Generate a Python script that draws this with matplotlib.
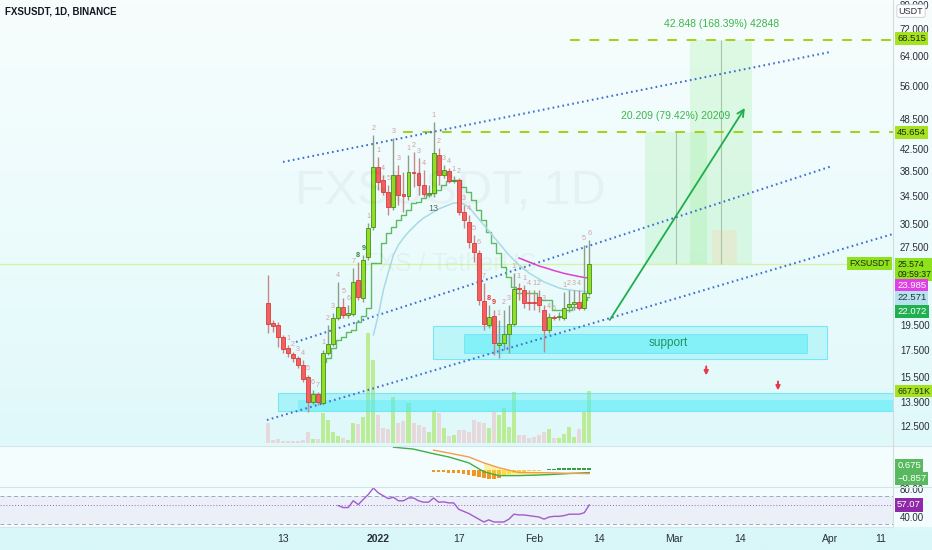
import numpy as np
import matplotlib
matplotlib.use("Agg")
import matplotlib.pyplot as plt
import matplotlib.transforms as mtransforms
from matplotlib.patches import Rectangle
from matplotlib.colors import LinearSegmentedColormap
from matplotlib.ticker import NullLocator

plt.rcParams['font.family'] = ['Liberation Sans', 'DejaVu Sans']

# ---------------- data (day index 0 = 13 Dec 2021) ----------------
days = list(range(-3, 62))
opens = [21.50, 19.68, 19.51, 18.51, 17.63, 17.17, 16.87, 16.36, 15.51, 13.90,
         14.39, 13.83, 17.25, 17.94, 20.12, 21.12, 20.39, 20.48, 23.80, 21.98,
         26.34, 30.06, 39.18, 36.99, 35.08, 32.84, 37.82, 34.78, 34.47, 38.32,
         38.15, 36.18, 34.78, 34.93, 41.30, 37.82, 38.49, 36.83, 36.99, 32.12,
         30.73, 28.02, 26.80, 21.70, 19.51, 20.30, 17.86, 18.02, 18.76, 19.60,
         22.97, 22.77, 21.60, 21.60, 22.08, 20.85, 19.09, 20.21, 20.21, 20.12,
         21.12, 21.41, 21.60, 21.03, 22.47]
highs = [24.33, 19.95, 19.77, 18.67, 17.86, 17.33, 17.02, 16.72, 15.65, 14.65,
         14.52, 17.48, 19.51, 20.57, 23.59, 21.98, 21.31, 25.09, 25.76, 26.57,
         30.60, 45.11, 40.94, 37.82, 36.18, 44.52, 39.52, 38.32, 41.30, 41.85,
         40.76, 38.66, 36.18, 47.77, 42.60, 39.52, 39.00, 37.65, 37.32, 33.13,
         31.69, 29.02, 27.17, 23.48, 21.31, 20.85, 19.95, 20.85, 21.31, 24.54,
         23.48, 23.28, 22.77, 22.77, 22.77, 21.31, 20.57, 20.39, 20.67, 22.57,
         22.77, 22.77, 22.77, 27.77, 28.39]
lows = [18.84, 18.92, 17.71, 17.25, 16.94, 16.57, 16.14, 15.17, 13.29, 13.77,
        13.71, 13.71, 17.09, 17.79, 19.95, 20.12, 20.12, 20.30, 21.79, 21.60,
        25.99, 29.67, 35.39, 34.62, 31.69, 32.40, 33.13, 32.12, 33.86, 35.86,
        34.62, 34.32, 34.32, 34.32, 36.18, 37.32, 36.50, 36.50, 31.69, 29.93,
        27.41, 25.76, 21.31, 19.09, 19.26, 17.09, 16.87, 17.48, 17.25, 19.43,
        21.79, 21.03, 20.85, 20.85, 20.67, 17.33, 18.84, 19.95, 19.95, 19.95,
        20.67, 20.85, 20.85, 20.85, 22.27]
closes = [19.60, 19.43, 18.51, 17.55, 17.25, 16.87, 16.36, 15.37, 13.90, 14.39,
          13.90, 17.25, 17.94, 20.12, 21.12, 20.39, 20.57, 23.59, 22.08, 25.99,
          29.93, 39.18, 36.67, 35.08, 32.84, 37.82, 34.62, 34.47, 38.32, 38.15,
          36.18, 34.78, 34.93, 41.66, 37.82, 38.66, 36.83, 36.99, 32.12, 31.01,
          28.14, 26.92, 21.79, 19.60, 20.21, 18.02, 18.02, 18.76, 19.60, 22.87,
          22.87, 21.50, 21.50, 21.50, 21.31, 19.09, 20.21, 20.12, 20.30, 21.03,
          21.41, 21.60, 21.03, 22.47, 25.574]
volumes_k = [257, 39, 51, 26, 26, 26, 26, 39, 141, 51,
             51, 386, 296, 141, 90, 64, 39, 257, 244, 334,
             1414, 1067, 360, 193, 180, 591, 257, 283, 514, 257,
             231, 206, 141, 424, 386, 193, 90, 103, 167, 167,
             141, 296, 270, 257, 193, 398, 360, 450, 206, 655,
             103, 103, 64, 77, 103, 141, 180, 64, 64, 116,
             206, 77, 180, 398, 667.91]

trail_days = list(range(8, 62))
trail_vals = [16.57, 16.87, 17.63, 18.26, 18.51, 18.92, 19.09, 19.77, 20.30, 21.00,
              25.65, 25.65, 28.02, 29.28, 30.06, 31.01, 31.69, 32.40, 33.42, 33.57,
              34.17, 34.62, 34.93, 35.39, 36.18, 36.83, 36.99, 36.99, 35.86, 35.08,
              33.86, 32.40, 31.01, 29.40, 28.02, 26.80, 25.20, 24.11, 23.07, 22.47,
              22.47, 22.47, 22.47, 21.79, 21.79, 21.79, 20.85, 20.85, 20.85, 20.85,
              21.12, 21.12, 21.79, 22.072]
ma_days = list(range(18, 62))
ma_vals = [18.67, 20.39, 22.77, 24.65, 26.57, 27.77, 28.64, 29.40, 30.06, 30.73,
           31.28, 31.69, 32.12, 32.54, 32.84, 33.13, 33.42, 33.42, 33.27, 32.84,
           31.98, 31.14, 30.33, 29.54, 28.76, 28.02, 27.28, 26.57, 25.99, 25.42,
           24.98, 24.54, 24.22, 23.90, 23.59, 23.38, 23.18, 22.97, 22.85, 22.78,
           22.72, 22.66, 22.61, 22.571]
mag_days = list(range(47, 62))
mag_vals = [26.22, 25.99, 25.76, 25.54, 25.31, 25.15, 24.98, 24.80, 24.65, 24.50,
            24.38, 24.27, 24.16, 24.06, 23.985]

td_days = [1, 2, 3, 4, 5, 6, 7, 8, 9, 10, 11, 12, 13, 14, 15, 16, 17, 18, 19, 20, 21,
           22, 23, 25, 26, 27, 28, 30, 31, 32, 33, 34, 35, 36, 37, 38, 39, 40, 41, 42,
           43, 44, 45, 46, 47, 48, 49, 50, 51, 52, 53, 54, 56, 57, 58, 59, 60, 61]
td_texts = ['1', '2', '3', '4', '5', '6', '7', '1', '2', '3', '4', '5', '6', '7', '8', '9', '1', '2', '1', '4', '5',
            '3', '3', '1', '2', '3', '4', '1', '2', '3', '4', '1', '2', '3', '4', '5', '6', '7', '8', '9',
            '1', '2', '3', '1', '1', '1', '4', '1', '2', '3', '4', '5', '1', '2', '3', '4', '5', '6']
td_bold_green = [15, 16]
td_bold_red = [41, 42]

macd_days = [22, 26, 30, 33, 37, 40, 43, 47, 50, 53, 57, 61]
macd_vals = [2.47, 2.26, 1.75, 1.40, 0.75, -0.22, -0.65, -0.65, -0.60, -0.54, -0.42, -0.32]
sig_days = [30, 33, 37, 40, 43, 47, 50, 53, 57, 61]
sig_vals = [2.15, 1.83, 1.40, 0.75, 0.22, -0.32, -0.32, -0.34, -0.40, -0.43]
hist_days = list(range(30, 62))
hist_vals = [-0.22, -0.22, -0.27, -0.33, -0.33, -0.38, -0.44, -0.55, -0.66, -0.77,
             -0.88, -0.99, -0.99, -0.88, -0.6, -0.45, -0.35, -0.25, -0.2, -0.15,
             -0.12, -0.1, -0.08, 0.1, 0.12, 0.14, 0.15, 0.15, 0.16, 0.17, 0.18, 0.2]

rsi_days = list(range(11, 62))
rsi_vals = [56.2, 53.4, 53.4, 63.1, 57.6, 65.0, 72.0, 81.0, 74.1, 70.0,
            66.0, 68.0, 63.0, 63.0, 67.0, 67.0, 63.0, 61.0, 61.0, 67.0,
            61.0, 61.5, 60.0, 60.0, 51.0, 48.0, 45.0, 41.0, 37.0, 33.0,
            36.0, 33.0, 33.0, 33.0, 37.0, 44.0, 43.0, 43.0, 42.0, 41.0,
            40.0, 37.0, 40.0, 41.0, 41.0, 42.0, 44.0, 44.0, 44.0, 46.0, 57.07]

price_ticks = [80, 72, 64, 56, 48.5, 42.5, 38.5, 34.5, 30.5, 27.5, 19.5, 17.5, 15.5, 13.9, 12.5]
time_tick_days = [0, 19, 35, 50, 63, 78, 91, 109, 119]
time_tick_labels = ['13', '2022', '17', 'Feb', '14', 'Mar', '14', 'Apr', '11']

last_price = 25.574
target1 = 45.654
target2 = 68.515
# channel drawings (day, price)
chan_top = [(0.0, 40.05), (109.0, 65.05)]
chan_mid = [(2.6, 18.10), (109.4, 39.34)]
chan_bot = [(-3.2, 12.83), (121.5, 29.15)]
arrow_pts = [(65.1, 19.95), (92.0, 50.81)]

# ---------------- layout ----------------
W, H = 932.0, 550.0
PLOT_R = 893.0
def fx(p): return p / W
def fy(p): return 1.0 - p / H

fig = plt.figure(figsize=(9.32, 5.5), dpi=100)

bgax = fig.add_axes([0, 0, 1, 1], zorder=-10)
grad = np.linspace(0, 1, 300).reshape(-1, 1)
bgax.imshow(grad, aspect='auto',
            cmap=LinearSegmentedColormap.from_list('g', ['#f7fdfd', '#eafbfc', '#d9f7f9']),
            extent=[0, 1, 0, 1], origin='upper')
bgax.set_axis_off()

XL = (-56.37, 121.51)
rect_main = [0, fy(445), fx(PLOT_R), 445 / H]
axv = fig.add_axes(rect_main, zorder=0)
ax = fig.add_axes(rect_main, zorder=1)
for a in (axv, ax):
    a.set_facecolor('none')
    a.set_xlim(*XL)

# volume
axv.set_ylim(-26, 5693)
axv.set_axis_off()
vcols = ['#b9ec93' if c >= o else '#e8d7da' for o, c in zip(opens, closes)]
axv.bar(days, volumes_k, width=0.8, color=vcols, alpha=0.95, linewidth=0)

# main price pane
ax.set_yscale('log')
ax.set_ylim(11.491, 81.83)
ax.yaxis.tick_right()
ax.set_yticks(price_ticks)
ax.set_yticklabels(['%.3f' % t for t in price_ticks])
ax.yaxis.set_minor_locator(NullLocator())
ax.tick_params(axis='y', length=0, pad=5, labelsize=7, colors='#2a2e39')
ax.set_xticks([])
for s in ['top', 'left', 'bottom']:
    ax.spines[s].set_visible(False)
ax.spines['right'].set_color('#d0dcdf')
ax.spines['right'].set_linewidth(0.8)

# watermark
fig.text(fx(450), fy(192), 'FXSUSDT, 1D', fontsize=35, color='#000000', alpha=0.035,
         ha='center', va='center')
fig.text(fx(450), fy(264), 'FXS / TetherUS', fontsize=18, color='#000000', alpha=0.035,
         ha='center', va='center')

# current price line
ax.axhline(last_price, color='#d9f1a6', lw=0.9, zorder=1)

# cyan boxes
ax.add_patch(Rectangle((29.9, 16.80), 108.4 - 29.9, 19.43 - 16.80, facecolor=(0.45, 0.94, 0.97, 0.35),
                       edgecolor=(0.35, 0.88, 0.95, 0.7), lw=0.8, zorder=1))
ax.add_patch(Rectangle((36.1, 17.25), 104.4 - 36.1, 18.76 - 17.25, facecolor=(0.25, 0.93, 0.98, 0.45),
                       edgecolor=(0.3, 0.85, 0.95, 0.6), lw=0.6, zorder=1))
ax.add_patch(Rectangle((-1.0, 13.35), 130, 14.46 - 13.35, facecolor=(0.35, 0.92, 0.97, 0.40),
                       edgecolor=(0.35, 0.88, 0.95, 0.7), lw=0.8, zorder=1))
ax.add_patch(Rectangle((3.0, 13.35), 130, 14.02 - 13.35, facecolor=(0.25, 0.92, 0.98, 0.35),
                       edgecolor='none', zorder=1))
ax.text(76.7, 18.02, 'support', color='#1f9463', fontsize=8.5, ha='center', va='center', zorder=3)

# projection ranges
ax.add_patch(Rectangle((72.1, last_price), 84.5 - 72.1, target1 - last_price,
                       facecolor=(0.55, 0.92, 0.55, 0.22), edgecolor='none', zorder=1))
ax.add_patch(Rectangle((81.1, last_price), 93.4 - 81.1, target2 - last_price,
                       facecolor=(0.55, 0.92, 0.55, 0.22), edgecolor='none', zorder=1))
ax.add_patch(Rectangle((85.5, last_price), 90.4 - 85.5, 29.67 - last_price,
                       facecolor=(0.98, 0.85, 0.7, 0.35), edgecolor='none', zorder=1))
ax.vlines([78.3], last_price, target1, color='#a8c4a8', lw=0.8, zorder=2)
ax.vlines([87.3], last_price, target2, color='#a8c4a8', lw=0.8, zorder=2)
ax.annotate('20.209 (79.42%) 20209', xy=(78.3, target1), xytext=(0, 12), textcoords='offset points',
            ha='center', va='center', fontsize=7.5, color='#3cb54a', zorder=4)
ax.annotate('42.848 (168.39%) 42848', xy=(87.3, target2), xytext=(0, 12), textcoords='offset points',
            ha='center', va='center', fontsize=7.5, color='#3cb54a', zorder=4)

# dashed targets
ax.hlines(target1, 23.9, XL[1], color='#a2d20f', lw=1.4, linestyles=(0, (5, 5)), zorder=2)
ax.hlines(target2, 57.2, XL[1], color='#a2d20f', lw=1.4, linestyles=(0, (5, 5)), zorder=2)

# channel lines
for ln in (chan_top, chan_mid, chan_bot):
    ax.plot([ln[0][0], ln[1][0]], [ln[0][1], ln[1][1]], color='#3d6fd3', lw=1.5,
            linestyle=(0, (0.8, 1.6)), zorder=2)

# green arrow
ax.annotate('', xy=arrow_pts[1], xytext=arrow_pts[0],
            arrowprops=dict(arrowstyle='->', color='#1fae4b', lw=1.3, mutation_scale=12,
                            shrinkA=0, shrinkB=0), zorder=3)

# red arrows
for d, p in [(84.3, 15.86), (98.6, 14.84)]:
    ax.annotate('', xy=(d, p * 0.985), xytext=(d, p * 1.025),
                arrowprops=dict(arrowstyle='-|>', color='#e8394a', lw=1.4, mutation_scale=6,
                                shrinkA=0, shrinkB=0), zorder=3)

# indicator lines
ax.plot(trail_days, trail_vals, drawstyle='steps-mid', color='#5dbb63', lw=1.0, zorder=3)
ax.plot(ma_days, ma_vals, color='#a9d9e6', lw=1.1, zorder=3)
ax.plot(mag_days, mag_vals, color='#e040d0', lw=1.1, zorder=3)

# candles
up = [c >= o for o, c in zip(opens, closes)]
wick_cols = ['#8e9d8a' if u else '#c78888' for u in up]
ax.vlines(days, lows, highs, colors=wick_cols, lw=1.0, zorder=4)
bottoms = [min(o, c) for o, c in zip(opens, closes)]
heights = [max(abs(c - o), min(o, c) * 0.006) for o, c in zip(opens, closes)]
ax.bar(days, heights, bottom=bottoms, width=0.78,
       color=['#93de24' if u else '#f26060' for u in up],
       edgecolor=['#3f8f1f' if u else '#d83c3c' for u in up], linewidth=0.6, zorder=5)

# TD counts
hmap = dict(zip(days, highs))
for d, t in zip(td_days, td_texts):
    if d in td_bold_green:
        col, wt = '#2e8b3a', 'bold'
    elif d in td_bold_red:
        col, wt = '#e03a3a', 'bold'
    else:
        col, wt = '#d0a2a2', 'normal'
    ax.annotate(t, xy=(d, hmap[d]), xytext=(0, 5), textcoords='offset points', ha='center',
                va='center', fontsize=5.2, color=col, weight=wt, zorder=6)
ax.annotate('13', xy=(30, 34.32), xytext=(0, -8), textcoords='offset points', ha='center',
            va='center', fontsize=6.5, color='#5a6a6a', zorder=6)

# right axis labels
def axis_label(axis, value, text, bg, fg, dy=0.0, fs=6.8):
    tr = mtransforms.blended_transform_factory(axis.transAxes, axis.transData)
    axis.annotate(text, xy=(1, value), xycoords=tr, xytext=(3, dy), textcoords='offset points',
                  ha='left', va='center', fontsize=fs, color=fg, annotation_clip=False,
                  bbox=dict(boxstyle='square,pad=0.22', fc=bg, ec='none'), zorder=10)

axis_label(ax, target2, '68.515', '#a6e31f', '#1e2a10', dy=1.2)
axis_label(ax, target1, '45.654', '#a6e31f', '#1e2a10')
axis_label(ax, last_price, '25.574\n09:59:37', '#8ee21c', '#1e2a10', dy=-4.2, fs=6.3)
axis_label(ax, mag_vals[-1], '23.985', '#e23ee6', 'white', dy=-5.2)
axis_label(ax, ma_vals[-1], '22.571', '#b6e2f0', '#24343a', dy=-4.3)
axis_label(ax, trail_vals[-1], '22.072', '#21b04f', 'white', dy=-10.2)
axis_label(axv, volumes_k[-1], '667.91K', '#a6e31f', '#1e2a10', fs=6.3)
trm = mtransforms.blended_transform_factory(ax.transAxes, ax.transData)
ax.annotate('FXSUSDT', xy=(1, last_price), xycoords=trm, xytext=(-2, 0), textcoords='offset points',
            ha='right', va='center', fontsize=6.3, color='#1e2a10', zorder=10,
            bbox=dict(boxstyle='square,pad=0.25', fc='#8ee21c', ec='none'))

# ---------------- MACD pane ----------------
fig.add_artist(Rectangle((0, fy(487)), 1, 41 / H, transform=fig.transFigure,
                         facecolor='#f4fdfd', edgecolor='none', zorder=1.5))
axm = fig.add_axes([0, fy(487), fx(PLOT_R), 41 / H], zorder=2)
axm.set_facecolor('none')
axm.set_xlim(*XL)
axm.set_ylim(-1.9, 2.6)
axm.set_xticks([])
axm.set_yticks([])
for s in ['top', 'left', 'bottom']:
    axm.spines[s].set_visible(False)
axm.spines['right'].set_color('#d0dcdf')
hcols = []
for i, v in enumerate(hist_vals):
    if v > 0:
        hcols.append('#3d9a4a')
    elif hist_days[i] <= 43:
        hcols.append('#f39520')
    else:
        hcols.append('#f7d038')
axm.bar(hist_days, hist_vals, width=0.7, color=hcols, linewidth=0)
sd = np.array(sig_days)
mv_on_sig = [macd_vals[macd_days.index(d)] for d in sig_days]
fill_mask = (sd >= 40) & (sd <= 57)
axm.fill_between(sd[fill_mask], np.array(mv_on_sig)[fill_mask], np.array(sig_vals)[fill_mask],
                 color='#ffe94a', alpha=0.5, linewidth=0)
axm.plot(macd_days, macd_vals, color='#3fae49', lw=1.0)
axm.plot(sig_days, sig_vals, color='#f39c50', lw=1.0)
trm2 = mtransforms.blended_transform_factory(axm.transAxes, axm.transAxes)
for yf, t in [(0.52, '0.675'), (0.2, '\u22120.857')]:
    axm.annotate(t, xy=(1, yf), xycoords=trm2, xytext=(3, 0), textcoords='offset points',
                 ha='left', va='center', fontsize=6.8, color='white', annotation_clip=False,
                 bbox=dict(boxstyle='square,pad=0.22', fc='#58b95e', ec='none'))

# ---------------- RSI pane ----------------
fig.add_artist(Rectangle((0, fy(527)), 1, 40 / H, transform=fig.transFigure,
                         facecolor='#f4fdfd', edgecolor='none', zorder=3))
axr = fig.add_axes([0, fy(527), fx(PLOT_R), 40 / H], zorder=4)
axr.set_facecolor('none')
axr.set_xlim(*XL)
axr.set_ylim(25.9, 82.5)
axr.axhspan(30, 70, color='#7e57c2', alpha=0.08, lw=0)
axr.axhline(70, color='#a4a4c4', lw=0.7, ls=(0, (4, 3)))
axr.axhline(30, color='#a4a4c4', lw=0.7, ls=(0, (4, 3)))
axr.axhline(rsi_vals[-1], color='#a85cc8', lw=0.7, ls=(0, (1, 2)))
axr.plot(rsi_days, rsi_vals, color='#a15ccb', lw=1.0)
axr.yaxis.tick_right()
axr.set_yticks([80, 40])
axr.set_yticklabels(['80.00', '40.00'])
axr.tick_params(axis='y', length=0, pad=5, labelsize=7, colors='#2a2e39')
axr.set_xticks(time_tick_days)
axr.set_xticklabels(time_tick_labels)
axr.tick_params(axis='x', length=0, pad=5, labelsize=7.5, colors='#2a2e39')
for lab in axr.get_xticklabels():
    if lab.get_text() == '2022':
        lab.set_fontweight('bold')
for s in ['top', 'left']:
    axr.spines[s].set_visible(False)
axr.spines['bottom'].set_color('#d6e6e8')
axr.spines['right'].set_color('#d0dcdf')
axis_label(axr, rsi_vals[-1], '57.07', '#8e2aa8', 'white')

# pane separators
for yy in (446, 487):
    fig.add_artist(plt.Line2D([0, 1], [fy(yy), fy(yy)], transform=fig.transFigure,
                              color='#d2e6e9', lw=0.8, zorder=5))

# header & unit
fig.text(fx(5), fy(12), 'FXSUSDT, 1D, BINANCE', fontsize=7, color='#131722',
         weight='bold', ha='left', va='center', zorder=20)
fig.text(fx(911), fy(11), 'USDT', fontsize=6.5, color='#2a2e39', ha='center', va='center', zorder=20,
         bbox=dict(boxstyle='round,pad=0.2', fc='white', ec='#c4ccd0', lw=0.6))

fig.savefig('out.png', dpi=100)
